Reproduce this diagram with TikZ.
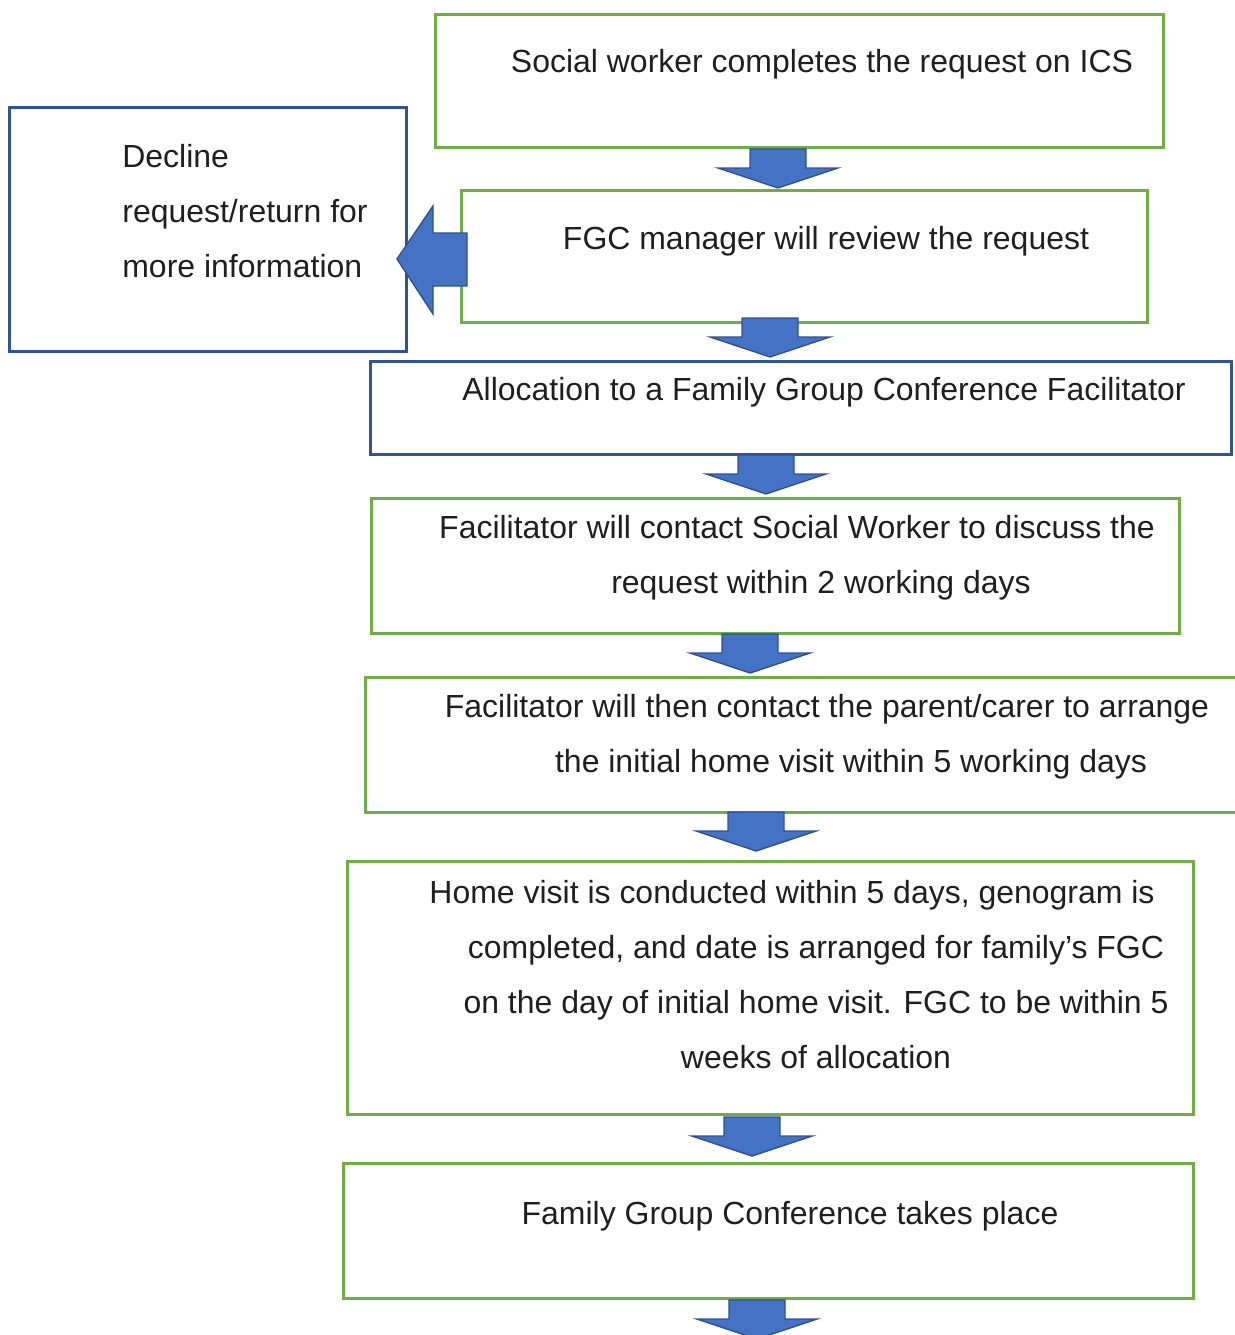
\documentclass[tikz,border=0pt]{standalone}
\usepackage{fontspec}
\setmainfont{Liberation Sans}
\usepackage{xcolor}

\definecolor{BoxGreen}{HTML}{70AD47}
\definecolor{BoxBlue}{HTML}{2F5597}
\definecolor{ArrowFill}{HTML}{4472C4}
\definecolor{ArrowLine}{HTML}{2F528F}

\tikzset{
   stepbox/.style={rectangle, draw=BoxGreen, line width=1.7pt,
      anchor=north west, inner sep=0pt},
   bluebox/.style={stepbox, draw=BoxBlue},
   steptext/.style={font=\fontsize{18.2}{31.3}\selectfont, text=black!88,
      align=center, anchor=base, inner sep=0pt},
   blockarrow/.style={draw=ArrowLine, fill=ArrowFill, line width=0.8pt},
   downblock/.pic={
      \draw [blockarrow] (-28,0) -- (28,0) -- (28,19) -- (60,19)
         -- (0,39) -- (-60,19) -- (-28,19) -- cycle;}
}

\begin{document}
\begin{tikzpicture}[x=0.02cm, y=-0.02cm]
   \useasboundingbox (0,0) rectangle (1234,1335);

   % the boxes
   \node (request) at (434,13) [stepbox, minimum width=14.56cm, minimum height=2.66cm] {};
   \node (review) at (460,189) [stepbox, minimum width=13.72cm, minimum height=2.64cm] {};
   \node (decline) at (8,106) [bluebox, minimum width=7.94cm, minimum height=4.88cm] {};
   \node (allocate) at (369,360) [bluebox, minimum width=17.22cm, minimum height=1.86cm] {};
   \node (contactsw) at (370,497) [stepbox, minimum width=16.16cm, minimum height=2.70cm] {};
   \node (contactfam) at (364,676) [stepbox, minimum width=17.62cm, minimum height=2.70cm] {};
   \node (homevisit) at (346,860) [stepbox, minimum width=16.92cm, minimum height=5.06cm] {};
   \node (conference) at (342,1162) [stepbox, minimum width=17.00cm, minimum height=2.70cm] {};

   % the texts (multi-line ones sit on their last line)
   \node (request text) at (822,73) [steptext] {Social worker completes the request on ICS};
   \node (review text) at (826,249) [steptext] {FGC manager will review the request};
   \node (decline text) at (122,277) [steptext, align=left, anchor=base west]
      {Decline\\ request/return for\\ more information};
   \node (allocate text) at (824,400) [steptext] {Allocation to a Family Group Conference Facilitator};
   \node (contactsw text) at (821,593) [steptext]
      {Facilitator will contact Social Worker to discuss the\hspace*{0.96cm}\\
       request within 2 working days};
   \node (contactfam text) at (851,772) [steptext]
      {Facilitator will then contact the parent/carer to arrange\hspace*{0.96cm}\\
       the initial home visit within 5 working days};
   \node (homevisit text) at (816,1068) [steptext]
      {Home visit is conducted within 5 days, genogram is\hspace*{0.96cm}\\
       completed, and date is arranged for family’s FGC\\
       on the day of initial home visit. FGC to be within 5\\
       weeks of allocation};
   \node (conference text) at (790,1224) [steptext] {Family Group Conference takes place};

   % the block arrows
   \pic at (778,149) {downblock};
   \pic at (770,318) {downblock};
   \pic at (766,455) {downblock};
   \pic at (750,634) {downblock};
   \pic at (756,812) {downblock};
   \pic at (752,1117) {downblock};
   \pic at (757,1300) {downblock};
   \draw [blockarrow] (467,233) -- (433,233) -- (433,206) -- (397,259)
      -- (433,314) -- (433,286) -- (467,286) -- cycle;
\end{tikzpicture}
\end{document}
